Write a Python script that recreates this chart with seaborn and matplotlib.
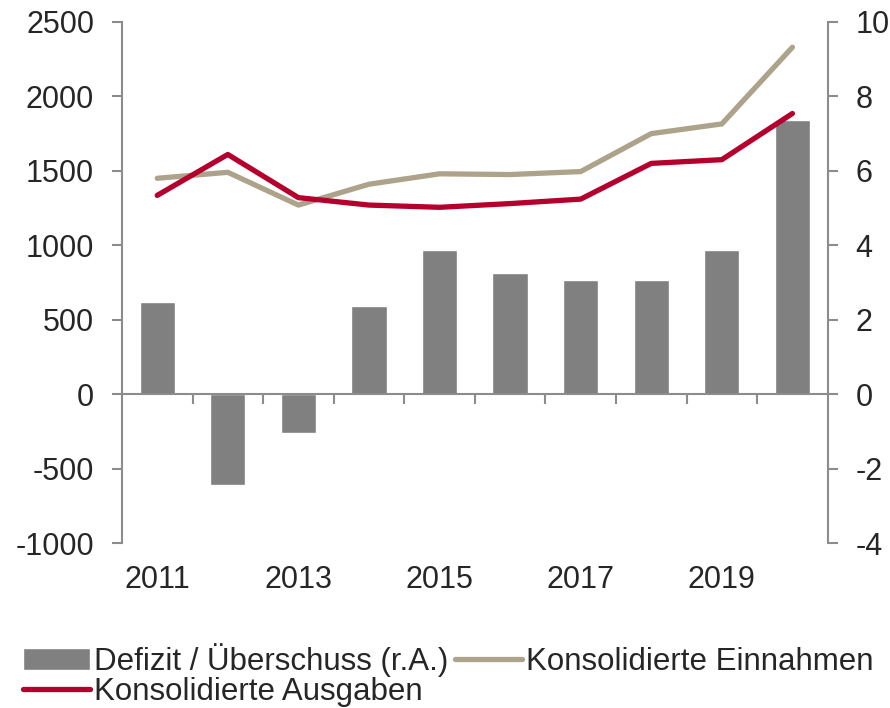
import numpy as np
import pandas as pd
import matplotlib
matplotlib.use("Agg")
import matplotlib.pyplot as plt
import seaborn as sns

years = [2011, 2012, 2013, 2014, 2015, 2016, 2017, 2018, 2019, 2020]
saldo = [2.48, -2.44, -1.04, 2.38, 3.88, 3.26, 3.06, 3.06, 3.88, 7.36]
einnahmen = [1450, 1490, 1270, 1410, 1480, 1475, 1495, 1750, 1815, 2330]
ausgaben = [1335, 1610, 1320, 1270, 1255, 1280, 1310, 1550, 1575, 1885]

sns.set_style("white")
plt.rcParams["font.family"] = ["Liberation Sans", "DejaVu Sans"]
plt.rcParams["axes.unicode_minus"] = False

grey = "#808080"
axis_col = "#8c8c8c"
tan = "#ADA38A"
red = "#B5002E"

df = pd.DataFrame({"pos": np.arange(len(years)), "saldo": saldo,
                   "einnahmen": einnahmen, "ausgaben": ausgaben})

fig = plt.figure(figsize=(8.9, 7.08), dpi=100)
rect = [0.137, 0.233, 0.930 - 0.137, 0.969 - 0.233]
ax2 = fig.add_axes(rect)   # bars, right scale
ax1 = fig.add_axes(rect)   # lines, left scale
ax1.patch.set_visible(False)

sns.barplot(data=df, x="pos", y="saldo", ax=ax2, color=grey, width=0.5,
            saturation=1, native_scale=True, label="Defizit / Überschuss (r.A.)")
sns.lineplot(data=df, x="pos", y="einnahmen", ax=ax1, color=tan, linewidth=3.8,
             label="Konsolidierte Einnahmen")
sns.lineplot(data=df, x="pos", y="ausgaben", ax=ax1, color=red, linewidth=3.8,
             label="Konsolidierte Ausgaben")

for ax in (ax1, ax2):
    ax.set_xlim(-0.5, len(years) - 0.5)
    ax.set_xlabel("")
    ax.set_ylabel("")
    if ax.get_legend():
        ax.get_legend().remove()
ax1.set_ylim(-1000, 2500)
ax2.set_ylim(-4, 10)
ax1.set_yticks(np.arange(-1000, 2501, 500))
ax2.set_yticks(np.arange(-4, 11, 2))
ax2.yaxis.tick_right()

for s in ["top", "right", "bottom"]:
    ax1.spines[s].set_visible(False)
for s in ["top", "left"]:
    ax2.spines[s].set_visible(False)
for sp in (ax1.spines["left"], ax2.spines["right"], ax2.spines["bottom"]):
    sp.set_color(axis_col)
    sp.set_linewidth(1.5)
ax2.spines["bottom"].set_position(("data", 0))

ax1.tick_params(axis="y", direction="out", length=7, width=1.5, color=axis_col,
                labelsize=22, pad=13, left=True)
ax2.tick_params(axis="y", direction="out", length=7, width=1.5, color=axis_col,
                labelsize=22, pad=13, right=True, left=False)

# year labels at the bottom
ax1.set_xticks(np.arange(0, len(years), 2))
ax1.set_xticklabels([str(y) for y in years[::2]])
ax1.tick_params(axis="x", length=0, labelsize=22, pad=16)

# tick marks between categories on the zero line
ax2.set_xticks(np.arange(0.5, len(years) - 0.5, 1))
ax2.tick_params(axis="x", direction="out", length=7, width=1.5, color=axis_col,
                labelbottom=False, bottom=True)

h1, l1 = ax1.get_legend_handles_labels()
h2, l2 = ax2.get_legend_handles_labels()
handles = [h2[0], h1[1], h1[0]]
labels = [l2[0], l1[1], l1[0]]
fig.legend(handles, labels, loc="lower left", bbox_to_anchor=(0.005, -0.025), ncol=2,
           frameon=False, fontsize=22.5, handlelength=2.15, handleheight=0.75,
           handletextpad=0.12, columnspacing=0.2, labelspacing=0.0,
           borderaxespad=0.2)

fig.savefig("out.png", dpi=100)
